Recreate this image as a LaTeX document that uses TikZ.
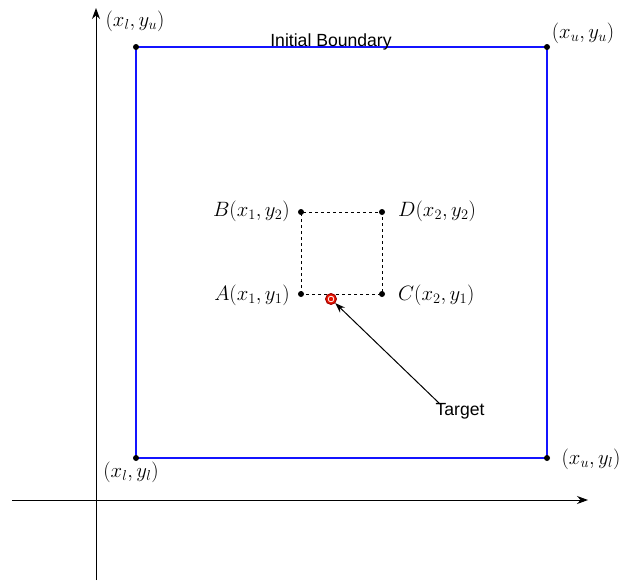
\documentclass[tikz,border=0pt]{standalone}
\usepackage{fontspec}
\setsansfont{Liberation Sans}
\usetikzlibrary{arrows.meta}
\definecolor{bblue}{RGB}{20,20,255}
\definecolor{tred}{RGB}{229,20,0}
\definecolor{tdark}{RGB}{160,0,0}
\tikzset{
  x=1pt,y=-1pt,
  dot/.style={circle,fill=black,inner sep=0pt,minimum size=6pt},
  mlab/.style={inner sep=0pt,font=\fontsize{21.8}{25}\selectfont},
  slab/.style={inner sep=0pt,font=\sffamily\fontsize{17.6}{21}\selectfont},
  axis/.style={line width=1pt,-{Stealth[length=11pt,width=8pt]}},
  bound/.style={draw=bblue,line width=1.8pt},
  dash box/.style={draw=black,line width=0.8pt,dash pattern=on 3pt off 3pt},
}
\begin{document}
\begin{tikzpicture}
\useasboundingbox (0,0) rectangle (623,582);
% boundary corners
\coordinate (lu) at (136,47);
\coordinate (uu) at (547,47);
\coordinate (ul) at (547,458);
\coordinate (ll) at (136,458);
\draw[bound] (lu) -- (uu);
\draw[bound] (uu) -- (ul);
\draw[bound] (ul) -- (ll);
\draw[bound] (ll) -- (lu);
% axes
\coordinate (ys) at (96,580);
\coordinate (ye) at (96,8);
\coordinate (xs) at (12,500);
\coordinate (xe) at (588,500);
\draw[axis] (ys) -- (ye);
\draw[axis] (xs) -- (xe);
\node[dot] (dlu) at (lu) {};
\node[dot] (duu) at (uu) {};
\node[dot] (dul) at (ul) {};
\node[dot] (dll) at (ll) {};
% labels
\node[mlab] (lulab) at (135,21) {$(x_l,y_u)$};
\node[mlab] (uulab) at (583,33) {$(x_u,y_u)$};
\node[mlab] (lllab) at (131,472) {$(x_l,y_l)$};
\node[mlab] (ullab) at (591,459) {$(x_u,y_l)$};
\node[slab] (title) at (331,42) {Initial Boundary};
% inner box
\coordinate (A) at (301,294);
\coordinate (B) at (301,212);
\coordinate (D) at (382,212);
\coordinate (C) at (382,294);
\path[dash box] (A) -- (B) -- (D) -- (C) -- cycle;
\node[dot] (dA) at (A) {};
\node[dot] (dB) at (B) {};
\node[dot] (dC) at (C) {};
\node[dot] (dD) at (D) {};
\node[mlab,anchor=east] (Alab) at (290,295) {$A(x_1,y_1)$};
\node[mlab,anchor=east] (Blab) at (290,211) {$B(x_1,y_2)$};
\node[mlab,anchor=west] (Clab) at (398,295) {$C(x_2,y_1)$};
\node[mlab,anchor=west] (Dlab) at (398,211) {$D(x_2,y_2)$};
% target
\node[circle,fill=tred,draw=tdark,line width=0.9pt,inner sep=0pt,minimum size=11pt] (tgt) at (331,299) {};
\draw[white,line width=0.8pt] (tgt.center) circle (2.8pt);
\node[slab] (tlab) at (460,411) {Target};
\coordinate (tstart) at (440,404);
\draw[line width=1pt,-{Stealth[length=10pt,width=7pt]}] (tstart) -- (tgt);
\end{tikzpicture}
\end{document}
